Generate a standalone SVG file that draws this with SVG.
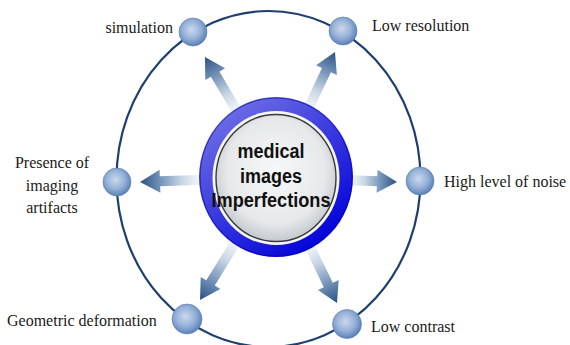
<svg xmlns="http://www.w3.org/2000/svg" width="570" height="345" viewBox="0 0 570 345">
  <defs>
    <linearGradient id="arrowFill" x1="0" y1="0" x2="1" y2="0">
      <stop offset="0" stop-color="#ffffff"/>
      <stop offset="0.35" stop-color="#c9d6e5"/>
      <stop offset="0.7" stop-color="#6f8fb5"/>
      <stop offset="1" stop-color="#2a5084"/>
    </linearGradient>
    <radialGradient id="sphere" cx="0.45" cy="0.42" r="0.62">
      <stop offset="0" stop-color="#cad9ee"/>
      <stop offset="0.55" stop-color="#94afd6"/>
      <stop offset="1" stop-color="#4e78b3"/>
    </radialGradient>
    <linearGradient id="ringFill" x1="0.2" y1="0.1" x2="0.8" y2="0.95">
      <stop offset="0" stop-color="#6a6ae4"/>
      <stop offset="0.45" stop-color="#3a3ae0"/>
      <stop offset="1" stop-color="#0000d8"/>
    </linearGradient>
    <radialGradient id="discFill" cx="0.5" cy="0.45" r="0.55">
      <stop offset="0" stop-color="#f7f8f9"/>
      <stop offset="0.75" stop-color="#e6e8ea"/>
      <stop offset="1" stop-color="#c4c8cc"/>
    </radialGradient>
    <style>
      .orbit { fill: none; stroke: #1e3f6f; stroke-width: 2.2; }
      .arrow { fill: url(#arrowFill); }
      .node { fill: url(#sphere); stroke: #5a7eb0; stroke-width: 0.6; }
      .label { font-family: "Liberation Serif", "Times New Roman", serif; font-size: 16px; fill: #1a1a1a; }
      .core { font-family: "Liberation Sans", Arial, sans-serif; font-weight: bold; font-size: 20px; fill: #111; text-anchor: middle; }
    </style>
  </defs>

  <rect width="570" height="345" fill="#ffffff"/>

  <!-- orbit ring carrying the outer nodes -->
  <ellipse class="orbit" cx="268.5" cy="179" rx="152" ry="168"/>

  <!-- radiating arrows: tip at origin, pointing along +x -->
  <g id="connectors">
    <polygon class="arrow" transform="translate(205,57) rotate(-120.6)" points="-67,-5 -20,-5 -20,-11.5 0,0 -20,11.5 -20,5 -67,5"/>
    <polygon class="arrow" transform="translate(335,52) rotate(-64.7)" points="-66,-5 -20,-5 -20,-11.5 0,0 -20,11.5 -20,5 -66,5"/>
    <polygon class="arrow" transform="translate(140,182) rotate(177.9)" points="-64,-5 -20,-5 -20,-11.5 0,0 -20,11.5 -20,5 -64,5"/>
    <polygon class="arrow" transform="translate(397,182) rotate(2.4)" points="-50,-5 -20,-5 -20,-11.5 0,0 -20,11.5 -20,5 -50,5"/>
    <polygon class="arrow" transform="translate(200,300) rotate(121.7)" points="-73,-5 -20,-5 -20,-11.5 0,0 -20,11.5 -20,5 -73,5"/>
    <polygon class="arrow" transform="translate(337,303) rotate(64.2)" points="-68,-5 -20,-5 -20,-11.5 0,0 -20,11.5 -20,5 -68,5"/>
  </g>

  <!-- central hub -->
  <g id="hub">
    <ellipse cx="276" cy="177" rx="77" ry="80" fill="url(#ringFill)"/>
    <ellipse cx="276" cy="177" rx="76" ry="79" fill="none" stroke="#0000a0" stroke-width="1" opacity="0.6"/>
    <ellipse cx="276" cy="178" rx="63.5" ry="67" fill="#f4f5f7"/>
    <ellipse cx="276" cy="178" rx="60" ry="63.5" fill="url(#discFill)" stroke="#3a3a3a" stroke-width="1.4"/>
    <text class="core" x="271" y="158" textLength="67" lengthAdjust="spacingAndGlyphs">medical</text>
    <text class="core" x="271" y="183" textLength="62" lengthAdjust="spacingAndGlyphs">images</text>
    <text class="core" x="271" y="207" textLength="119" lengthAdjust="spacingAndGlyphs">Imperfections</text>
  </g>

  <g id="node-simulation">
    <circle class="node" cx="193" cy="32" r="14"/>
    <text class="label" x="173" y="33" text-anchor="end">simulation</text>
  </g>

  <g id="node-low-resolution">
    <circle class="node" cx="343" cy="31" r="14"/>
    <text class="label" x="372" y="31">Low resolution</text>
  </g>

  <g id="node-imaging-artifacts">
    <circle class="node" cx="117" cy="182" r="14"/>
    <text class="label" x="52" y="168" text-anchor="middle">Presence of</text>
    <text class="label" x="52" y="191" text-anchor="middle">imaging</text>
    <text class="label" x="52" y="213" text-anchor="middle">artifacts</text>
  </g>

  <g id="node-noise">
    <circle class="node" cx="420" cy="181" r="14"/>
    <text class="label" x="444" y="187">High level of noise</text>
  </g>

  <g id="node-geometric-deformation">
    <circle class="node" cx="187" cy="319" r="15"/>
    <text class="label" x="7" y="326">Geometric deformation</text>
  </g>

  <g id="node-low-contrast">
    <circle class="node" cx="347" cy="324" r="14.5"/>
    <text class="label" x="371" y="332">Low contrast</text>
  </g>
</svg>
